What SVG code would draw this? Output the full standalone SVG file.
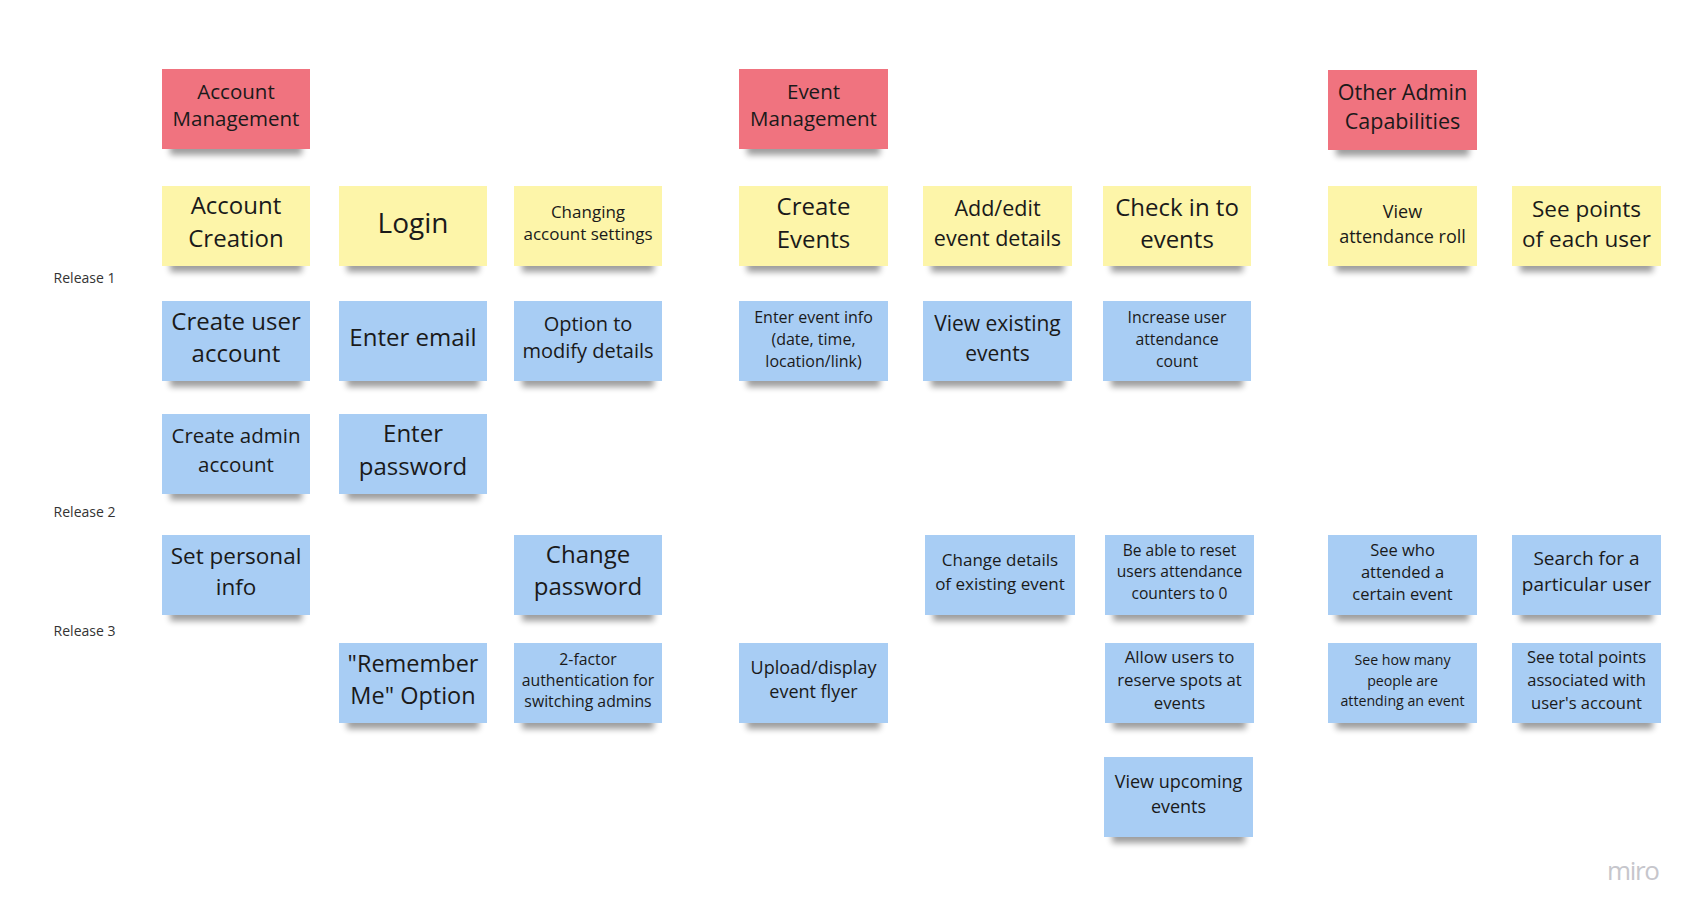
<svg xmlns="http://www.w3.org/2000/svg" width="1699" height="919" viewBox="0 0 1699 919">
<defs>
<filter id="blur" x="-20%" y="-100%" width="140%" height="300%"><feGaussianBlur stdDeviation="3"/></filter>
<style>
.sh{fill:#000;opacity:.38;filter:url(#blur)}
.red{fill:#f0737f}
.yel{fill:#fdf5a9}
.blu{fill:#a8cdf4}
text{font-family:"Open Sans","Noto Sans","Liberation Sans",sans-serif;fill:#1a1a1a;text-anchor:middle}
.rel{font-size:14px;fill:#333;text-anchor:start}
.miro{font-size:26px;fill:#c6c6cc;text-anchor:start}
</style>
</defs>
<rect width="1699" height="919" fill="#fff"/>

<g id="labels">
<text class="rel" x="53.6" y="283">Release 1</text>
<text class="rel" x="53.6" y="516.5">Release 2</text>
<text class="rel" x="53.6" y="636">Release 3</text>
<text class="miro" x="1607" y="880" textLength="53">miro</text>
</g>

<g id="connectors"></g>

<!-- Column 1 -->
<g id="account-management"><rect class="sh" x="170" y="141" width="132" height="14"/><rect class="red" x="162" y="69" width="148" height="80"/>
<text font-size="20.5" x="236"><tspan x="236" y="98.5">Account</tspan><tspan x="236" y="125.5">Management</tspan></text></g>
<g id="account-creation"><rect class="sh" x="170" y="258" width="132" height="14"/><rect class="yel" x="162" y="186" width="148" height="80"/>
<text font-size="24"><tspan x="236" y="214">Account</tspan><tspan x="236" y="247">Creation</tspan></text></g>
<g id="create-user-account"><rect class="sh" x="170" y="373" width="132" height="14"/><rect class="blu" x="162" y="301" width="148" height="80"/>
<text font-size="24"><tspan x="236" y="330">Create user</tspan><tspan x="236" y="361.5">account</tspan></text></g>
<g id="create-admin-account"><rect class="sh" x="170" y="486" width="132" height="14"/><rect class="blu" x="162" y="414" width="148" height="80"/>
<text font-size="20.5"><tspan x="236" y="443">Create admin</tspan><tspan x="236" y="471.5">account</tspan></text></g>
<g id="set-personal-info"><rect class="sh" x="170" y="607" width="132" height="14"/><rect class="blu" x="162" y="535" width="148" height="80"/>
<text font-size="22.5"><tspan x="236" y="563.5">Set personal</tspan><tspan x="236" y="594.5">info</tspan></text></g>

<!-- Column 2 -->
<g id="login"><rect class="sh" x="347" y="258" width="132" height="14"/><rect class="yel" x="339" y="186" width="148" height="80"/>
<text font-size="28" x="413" y="232.5">Login</text></g>
<g id="enter-email"><rect class="sh" x="347" y="373" width="132" height="14"/><rect class="blu" x="339" y="301" width="148" height="80"/>
<text font-size="24" x="413" y="345.5">Enter email</text></g>
<g id="enter-password"><rect class="sh" x="347" y="486" width="132" height="14"/><rect class="blu" x="339" y="414" width="148" height="80"/>
<text font-size="24"><tspan x="413" y="442">Enter</tspan><tspan x="413" y="474.5">password</tspan></text></g>
<g id="remember-me"><rect class="sh" x="347" y="715" width="132" height="14"/><rect class="blu" x="339" y="643" width="148" height="80"/>
<text font-size="23.5"><tspan x="413" y="671.5">"Remember</tspan><tspan x="413" y="703.5">Me" Option</tspan></text></g>

<!-- Column 3 -->
<g id="changing-account-settings"><rect class="sh" x="522" y="258" width="132" height="14"/><rect class="yel" x="514" y="186" width="148" height="80"/>
<text font-size="17"><tspan x="588" y="218">Changing</tspan><tspan x="588" y="240">account settings</tspan></text></g>
<g id="option-modify-details"><rect class="sh" x="522" y="373" width="132" height="14"/><rect class="blu" x="514" y="301" width="148" height="80"/>
<text font-size="20"><tspan x="588" y="331">Option to</tspan><tspan x="588" y="358">modify details</tspan></text></g>
<g id="change-password"><rect class="sh" x="522" y="607" width="132" height="14"/><rect class="blu" x="514" y="535" width="148" height="80"/>
<text font-size="24"><tspan x="588" y="562.5">Change</tspan><tspan x="588" y="594.5">password</tspan></text></g>
<g id="two-factor"><rect class="sh" x="522" y="715" width="132" height="14"/><rect class="blu" x="514" y="643" width="148" height="80"/>
<text font-size="15.8"><tspan x="588" y="664.5">2-factor</tspan><tspan x="588" y="685.5">authentication for</tspan><tspan x="588" y="706.5">switching admins</tspan></text></g>

<!-- Column 4 -->
<g id="event-management"><rect class="sh" x="747" y="141" width="133" height="14"/><rect class="red" x="739" y="69" width="149" height="80"/>
<text font-size="20.5"><tspan x="813.5" y="98.5">Event</tspan><tspan x="813.5" y="125.5">Management</tspan></text></g>
<g id="create-events"><rect class="sh" x="747" y="258" width="133" height="14"/><rect class="yel" x="739" y="186" width="149" height="80"/>
<text font-size="24"><tspan x="813.5" y="215">Create</tspan><tspan x="813.5" y="248">Events</tspan></text></g>
<g id="enter-event-info"><rect class="sh" x="747" y="373" width="133" height="14"/><rect class="blu" x="739" y="301" width="149" height="80"/>
<text font-size="16"><tspan x="813.5" y="322.5">Enter event info</tspan><tspan x="813.5" y="344.5">(date, time,</tspan><tspan x="813.5" y="366.5">location/link)</tspan></text></g>
<g id="upload-flyer"><rect class="sh" x="747" y="715" width="133" height="14"/><rect class="blu" x="739" y="643" width="149" height="80"/>
<text font-size="18"><tspan x="813.5" y="673.5">Upload/display</tspan><tspan x="813.5" y="698">event flyer</tspan></text></g>

<!-- Column 5 -->
<g id="add-edit-event-details"><rect class="sh" x="931" y="258" width="133" height="14"/><rect class="yel" x="923" y="186" width="149" height="80"/>
<text font-size="21.5"><tspan x="997.5" y="216">Add/edit</tspan><tspan x="997.5" y="246">event details</tspan></text></g>
<g id="view-existing-events"><rect class="sh" x="931" y="373" width="133" height="14"/><rect class="blu" x="923" y="301" width="149" height="80"/>
<text font-size="21"><tspan x="997.5" y="331">View existing</tspan><tspan x="997.5" y="361">events</tspan></text></g>
<g id="change-event-details"><rect class="sh" x="933" y="607" width="134" height="14"/><rect class="blu" x="925" y="535" width="150" height="80"/>
<text font-size="17"><tspan x="1000" y="566">Change details</tspan><tspan x="1000" y="590">of existing event</tspan></text></g>

<!-- Column 6 -->
<g id="check-in-events"><rect class="sh" x="1111" y="258" width="132" height="14"/><rect class="yel" x="1103" y="186" width="148" height="80"/>
<text font-size="24"><tspan x="1177" y="215.5">Check in to</tspan><tspan x="1177" y="248">events</tspan></text></g>
<g id="increase-attendance"><rect class="sh" x="1111" y="373" width="132" height="14"/><rect class="blu" x="1103" y="301" width="148" height="80"/>
<text font-size="15.8"><tspan x="1177" y="323">Increase user</tspan><tspan x="1177" y="345">attendance</tspan><tspan x="1177" y="367">count</tspan></text></g>
<g id="reset-counters"><rect class="sh" x="1113" y="607" width="133" height="14"/><rect class="blu" x="1105" y="535" width="149" height="80"/>
<text font-size="15.6"><tspan x="1179.5" y="555.5">Be able to reset</tspan><tspan x="1179.5" y="577">users attendance</tspan><tspan x="1179.5" y="598.5">counters to 0</tspan></text></g>
<g id="reserve-spots"><rect class="sh" x="1113" y="715" width="133" height="14"/><rect class="blu" x="1105" y="643" width="149" height="80"/>
<text font-size="16.8"><tspan x="1179.5" y="663">Allow users to</tspan><tspan x="1179.5" y="686">reserve spots at</tspan><tspan x="1179.5" y="709">events</tspan></text></g>
<g id="view-upcoming-events"><rect class="sh" x="1112" y="829" width="133" height="14"/><rect class="blu" x="1104" y="757" width="149" height="80"/>
<text font-size="18"><tspan x="1178.5" y="788">View upcoming</tspan><tspan x="1178.5" y="812.5">events</tspan></text></g>

<!-- Column 7 -->
<g id="other-admin"><rect class="sh" x="1336" y="142" width="133" height="14"/><rect class="red" x="1328" y="70" width="149" height="80"/>
<text font-size="21.5"><tspan x="1402.5" y="99.5">Other Admin</tspan><tspan x="1402.5" y="128.5">Capabilities</tspan></text></g>
<g id="view-attendance-roll"><rect class="sh" x="1336" y="258" width="133" height="14"/><rect class="yel" x="1328" y="186" width="149" height="80"/>
<text font-size="18"><tspan x="1402.5" y="218">View</tspan><tspan x="1402.5" y="243">attendance roll</tspan></text></g>
<g id="see-who-attended"><rect class="sh" x="1336" y="607" width="133" height="14"/><rect class="blu" x="1328" y="535" width="149" height="80"/>
<text font-size="16.5"><tspan x="1402.5" y="555.5">See who</tspan><tspan x="1402.5" y="577.5">attended a</tspan><tspan x="1402.5" y="599.5">certain event</tspan></text></g>
<g id="see-how-many"><rect class="sh" x="1336" y="715" width="133" height="14"/><rect class="blu" x="1328" y="643" width="149" height="80"/>
<text font-size="14.2"><tspan x="1402.5" y="664.5">See how many</tspan><tspan x="1402.5" y="685.5">people are</tspan><tspan x="1402.5" y="706">attending an event</tspan></text></g>

<!-- Column 8 -->
<g id="see-points"><rect class="sh" x="1520" y="258" width="133" height="14"/><rect class="yel" x="1512" y="186" width="149" height="80"/>
<text font-size="22.5"><tspan x="1586.5" y="216.5">See points</tspan><tspan x="1586.5" y="246.5">of each user</tspan></text></g>
<g id="search-user"><rect class="sh" x="1520" y="607" width="133" height="14"/><rect class="blu" x="1512" y="535" width="149" height="80"/>
<text font-size="19"><tspan x="1586.5" y="565">Search for a</tspan><tspan x="1586.5" y="590.5">particular user</tspan></text></g>
<g id="see-total-points"><rect class="sh" x="1520" y="715" width="133" height="14"/><rect class="blu" x="1512" y="643" width="149" height="80"/>
<text font-size="16.5"><tspan x="1586.5" y="663">See total points</tspan><tspan x="1586.5" y="686">associated with</tspan><tspan x="1586.5" y="709">user's account</tspan></text></g>
</svg>
